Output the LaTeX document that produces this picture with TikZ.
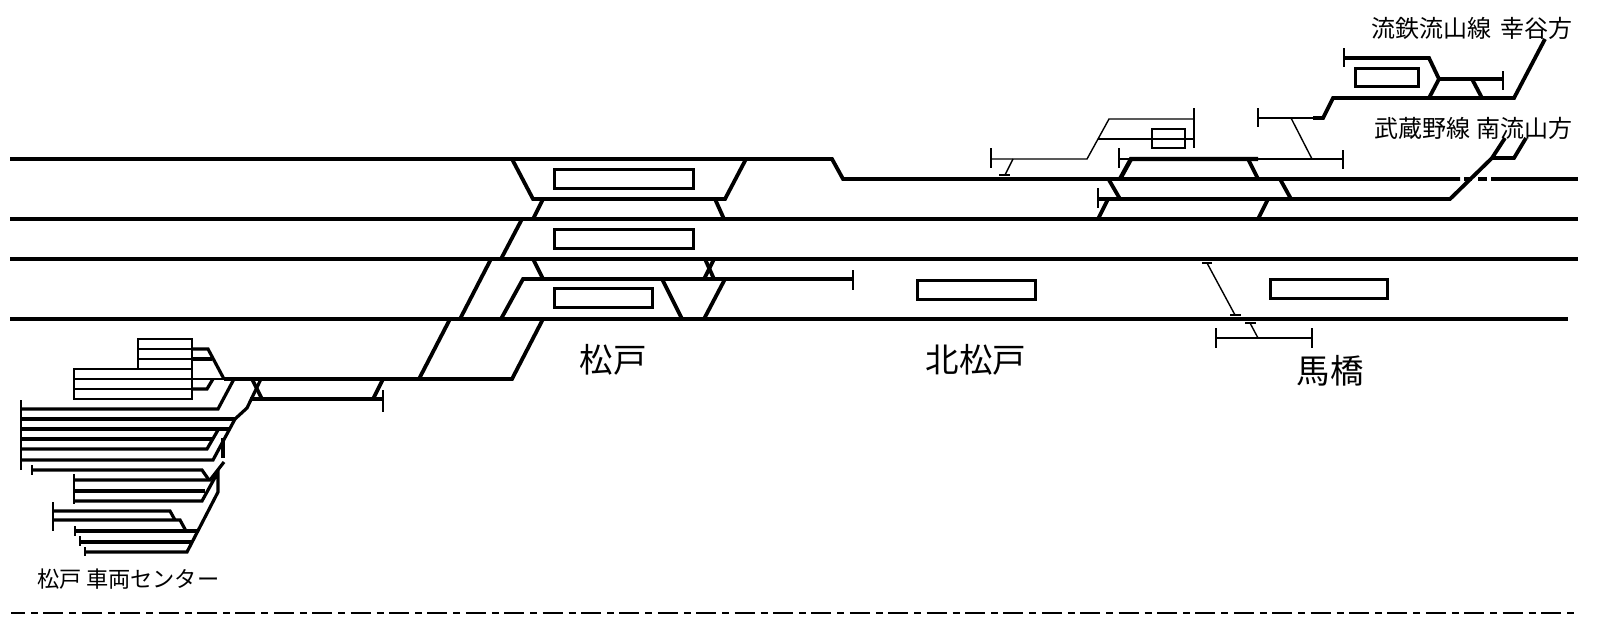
\documentclass[tikz,border=0pt]{standalone}
\usepackage{fontspec}
\newfontfamily\jpfont{Noto Sans CJK JP}
\usetikzlibrary{positioning}

\begin{document}
\begin{tikzpicture}[x=1pt,y=-1pt,line join=miter]
	\tikzstyle{track}=[draw=black,line width=3.8pt]
	\tikzstyle{yard}=[draw=black,line width=3.2pt]
	\tikzstyle{siding}=[draw=black,line width=1.4pt]
	\tikzstyle{stop}=[draw=black,line width=2.2pt]
	\tikzstyle{platform}=[draw=black,line width=3pt,fill=white]
	\tikzstyle{station}=[font=\jpfont\fontsize{33.5pt}{34pt}\selectfont,inner sep=0pt]
	\tikzstyle{place}=[font=\jpfont\fontsize{24pt}{24pt}\selectfont,inner sep=0pt]
	\useasboundingbox (0,0) rectangle (1600,627);
	% main lines
	\draw[track] (10,159) -- (832,159) -- (843,179) -- (1460,179);
	\draw[track] (1491,179) -- (1578,179);
	\draw[track] (1464,179) -- (1472,179) (1478,179) -- (1487,179);
	\draw[track] (10,219) -- (1578,219);
	\draw[track] (10,259) -- (1578,259);
	\draw[track] (10,319) -- (1568,319);
	% Matsudo
	\draw[track] (512,159) -- (533,199) -- (725,199) -- (746,159);
	\draw[track] (543,199) -- (533,219);
	\draw[track] (715,199) -- (724,219);
	\draw[track] (522,219) -- (501,259);
	\draw[track] (491,259) -- (460,319);
	\draw[track] (501,319) -- (523,279) -- (853,279);
	\draw[track] (533,259) -- (543,279);
	\draw[track] (704,279) -- (714,259);
	\draw[track] (705,259) -- (714,279);
	\draw[track] (662,279) -- (682,319);
	\draw[track] (704,319) -- (725,279);
	\draw[stop] (853,270) -- (853,290);
	\draw[track] (543,319) -- (512,379) -- (224,379);
	\draw[track] (450,319) -- (419,379);
	\draw[platform] (554,169.5) rectangle (693,188.5);
	\draw[platform] (554,229.5) rectangle (693,248.5);
	\draw[platform] (554,288.5) rectangle (652,307.5);
	\node[station] (matsudo) at (613,360) {松戸};
	% Kita-Matsudo
	\draw[platform] (917,280) rectangle (1035,299);
	\node[station] (kitamatsudo) at (976,360) {北松戸};
	\draw[siding] (991,148) -- (991,168);
	\draw[siding] (991,159) -- (1087,159) -- (1109,119) -- (1194,119);
	\draw[siding] (1098,139) -- (1194,139);
	\draw[siding] (1194,108) -- (1194,148);
	\draw[siding] (1013,159) -- (1005,175);
	\draw[siding] (999,175) -- (1010,175);
	\draw[draw=black,line width=1.6pt] (1152,129) rectangle (1185,148);
	% Shin-Matsudo side
	\draw[siding] (1119,148) -- (1119,168);
	\draw[siding] (1119,159) -- (1130,159);
	\draw[track,line width=4.4pt] (1120,179) -- (1131,159) -- (1258,159);
	\draw[track] (1248,159) -- (1258,179);
	\draw[siding] (1258,159) -- (1343,159);
	\draw[siding] (1343,150) -- (1343,169);
	\draw[siding] (1291,118) -- (1312,159);
	\draw[siding] (1098,188) -- (1098,208);
	\draw[track] (1098,199) -- (1450,199) -- (1492,158) -- (1505,138);
	\draw[track] (1492,158) -- (1514,158) -- (1526,138);
	\draw[track] (1109,180) -- (1120,199);
	\draw[track] (1280,179) -- (1291,199);
	\draw[track] (1098,219) -- (1108,199);
	\draw[track] (1258,219) -- (1268,199);
	% Ryutetsu
	\draw[siding] (1258,108) -- (1258,127);
	\draw[siding] (1258,118) -- (1313,118);
	\draw[track] (1313,118) -- (1323,118) -- (1333,98) -- (1514,98) -- (1545,39);
	\draw[track] (1344,58) -- (1429,58) -- (1439,79) -- (1503,79);
	\draw[track] (1439,79) -- (1429,98);
	\draw[track] (1472,79) -- (1482,98);
	\draw[stop] (1344,48) -- (1344,67);
	\draw[stop] (1503,71) -- (1503,90);
	\draw[platform] (1355,68) rectangle (1418,86);
	\node[place,anchor=east] (ryutetsu) at (1573,28) {流鉄流山線\hspace{9pt}幸谷方};
	\node[place,anchor=east] (musashino) at (1573,128) {武蔵野線\hspace{6pt}南流山方};
	% Mabashi
	\draw[platform] (1270,279) rectangle (1387,298);
	\draw[siding] (1207,263) -- (1235,315);
	\draw[siding,line width=1.6pt] (1202,263) -- (1212,263) (1230,315) -- (1241,315);
	\draw[siding,line width=1.6pt] (1245,323) -- (1256,323);
	\draw[siding] (1250,323) -- (1258,338);
	\draw[siding] (1216,338) -- (1312,338);
	\draw[stop] (1216,328) -- (1216,348);
	\draw[stop] (1312,328) -- (1312,348);
	\node[station] (mabashi) at (1330,371) {馬橋};
	% depot
	\draw[siding] (74,369) rectangle (192,399);
	\draw[siding] (138,339) rectangle (192,369);
	\draw[siding] (138,359) -- (192,359);
	\draw[siding] (74,389) -- (192,389);
	\draw[siding,line width=2pt] (138,349) -- (192,349);
	\draw[siding,line width=2pt] (74,379) -- (224,379);
	\draw[yard] (192,349) -- (208,349) -- (224,379);
	\draw[yard] (192,359) -- (212,359);
	\draw[yard] (192,389) -- (207,389) -- (213,379);
	\draw[track] (252,379) -- (262,399);
	\draw[track] (250,399) -- (383,399);
	\draw[track] (383,379) -- (373,399);
	\draw[stop] (383,390) -- (383,412);
	\draw[yard] (261,379) -- (247,408) -- (235,419) -- (213,460) -- (21,460);
	\draw[stop] (21,400) -- (21,470);
	\draw[yard] (21,409) -- (218,409) -- (234,379);
	\draw[yard] (21,419) -- (235,419);
	\foreach \y/\x in {429/230,439/213}
		\draw[yard] (21,\y) -- (\x,\y);
	\draw[yard] (21,449) -- (207,449) -- (218,430);
	\draw[yard] (223,438) -- (223,458);
	\draw[stop] (32,465) -- (32,475);
	\draw[yard] (32,470) -- (202,470) -- (209,480);
	\draw[stop] (74,474) -- (74,504);
	\draw[yard] (74,480) -- (210,480) -- (224,462);
	\draw[yard] (74,491) -- (205,491);
	\draw[yard] (74,501) -- (202,501) -- (218,472) -- (218,492) -- (187,552) -- (85,552);
	\draw[stop] (85,547) -- (85,556);
	\draw[stop] (80,536) -- (80,546);
	\draw[stop] (75,526) -- (75,536);
	\draw[stop] (53,502) -- (53,531);
	\draw[yard] (80,542) -- (193,542);
	\draw[yard] (75,531) -- (197,531);
	\draw[yard] (53,511) -- (170,511) -- (175,520);
	\draw[yard] (53,520) -- (180,520) -- (186,531);
	\node[place,anchor=west,font=\jpfont\fontsize{22.2pt}{22pt}\selectfont] (depot) at (37.5,579) {松戸\hspace{4pt}車両センター};
	% border
	\draw[black,line width=2.2pt,dash pattern=on 20pt off 6pt on 7pt off 5.4pt,dash phase=6pt] (11,613) -- (1574,613);
\end{tikzpicture}
\end{document}
